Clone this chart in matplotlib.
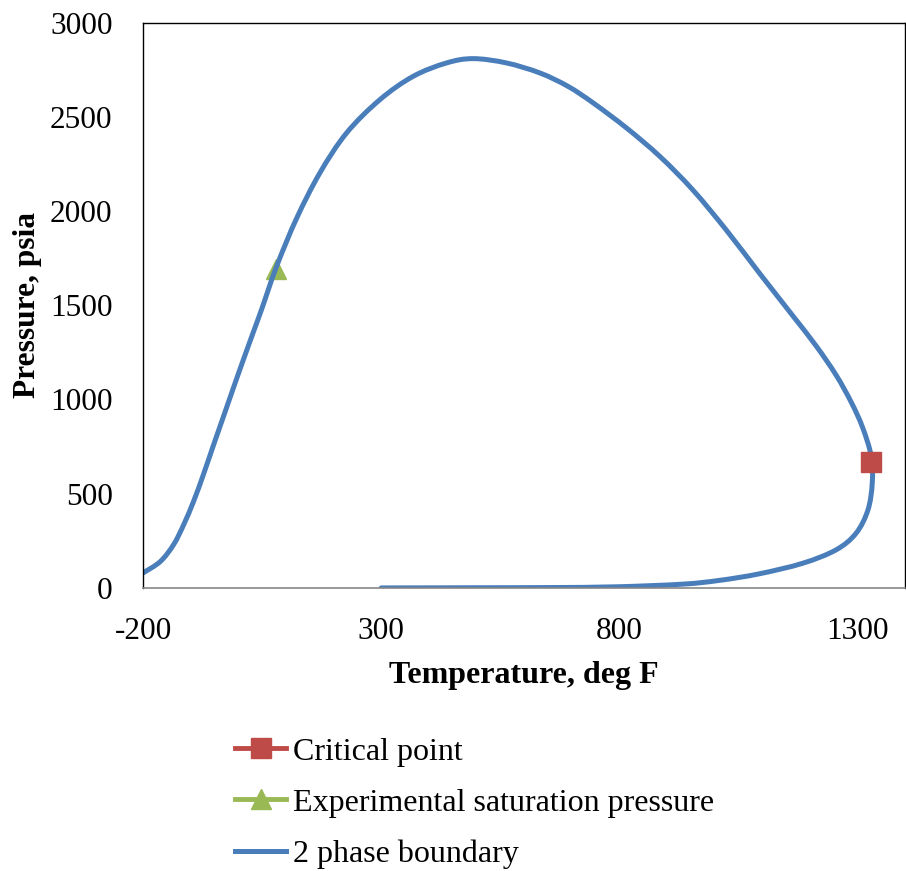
import matplotlib
matplotlib.use("Agg")
import matplotlib.pyplot as plt
from matplotlib.path import Path
from matplotlib.patches import PathPatch
from matplotlib.lines import Line2D

plt.rcParams["font.family"] = ["Liberation Serif", "DejaVu Serif"]
plt.rcParams["axes.unicode_minus"] = False

# 2 phase boundary (deg F, psia)
temp = [-200, -164, -136, -115, -94, -73, -52, -31, -10, 10, 31, 49, 80, 122, 171, 227,
        297, 367, 437, 493, 563, 633, 692, 745, 815, 885, 954, 1024, 1094, 1164, 1213,
        1255, 1287, 1311, 1329, 1331, 1322, 1297, 1255, 1185, 1094, 1010, 933, 794, 654,
        500, 300]
pres = [80, 140, 230, 335, 460, 605, 760, 912, 1065, 1208, 1355, 1480, 1705, 1960, 2202, 2414,
        2591, 2715, 2786, 2809, 2786, 2733, 2662, 2574, 2441, 2290, 2113, 1901, 1671, 1445, 1285,
        1130, 985, 850, 697, 556, 414, 290, 202, 131, 75, 40, 20, 6, 2,
        1, 0]

crit_t, crit_p = [1329], [667]
sat_t, sat_p = [80], [1695]

blue = "#4A7EBB"
red = "#BE4B48"
green = "#98B954"


def smooth_path(xs, ys):
    # Excel-style smoothed line: Catmull-Rom segments drawn as cubic Beziers
    pts = list(zip(xs, ys))
    verts = [pts[0]]
    codes = [Path.MOVETO]
    n = len(pts)
    for i in range(n - 1):
        p0 = pts[i - 1] if i > 0 else pts[i]
        p1 = pts[i]
        p2 = pts[i + 1]
        p3 = pts[i + 2] if i + 2 < n else pts[i + 1]
        c1 = (p1[0] + (p2[0] - p0[0]) / 6, p1[1] + (p2[1] - p0[1]) / 6)
        c2 = (p2[0] - (p3[0] - p1[0]) / 6, p2[1] - (p3[1] - p1[1]) / 6)
        verts += [c1, c2, p2]
        codes += [Path.CURVE4] * 3
    return Path(verts, codes)


fig = plt.figure(figsize=(9.06, 8.71), dpi=100)
ax = fig.add_axes([0.158, 0.325, 0.841, 0.649])

ax.add_patch(PathPatch(smooth_path(temp, pres), facecolor="none", edgecolor=blue,
                       linewidth=3.6, capstyle="round", zorder=2))
h_crit, = ax.plot(crit_t, crit_p, "-s", color=red, markersize=14.5, linewidth=3.5,
                  label="Critical point", zorder=3)
h_sat, = ax.plot(sat_t, sat_p, "-^", color=green, markersize=14, linewidth=3.5,
                 label="Experimental saturation pressure", zorder=1)
h_line = Line2D([], [], color=blue, linewidth=3.6, label="2 phase boundary")

ax.set_xlim(-200, 1400)
ax.set_ylim(0, 3000)
ax.set_xticks([-200, 300, 800, 1300])
ax.set_yticks([0, 500, 1000, 1500, 2000, 2500, 3000])
ax.tick_params(length=0, labelsize=22.5)
ax.tick_params(axis="x", pad=21)
ax.tick_params(axis="y", pad=22)
for s in ["top", "left", "right"]:
    ax.spines[s].set_color("black")
    ax.spines[s].set_linewidth(1.0)
ax.spines["bottom"].set_color("#868686")
ax.spines["bottom"].set_linewidth(1.2)

ax.set_xlabel("Temperature, deg F", fontsize=23, fontweight="bold", labelpad=11)
ax.set_ylabel("Pressure, psia", fontsize=22.6, fontweight="bold", labelpad=6)

fig.legend(handles=[h_crit, h_sat, h_line], loc="upper left", bbox_to_anchor=(0.242, 0.172),
           frameon=False, fontsize=23, handlelength=1.6, handletextpad=0.2,
           labelspacing=0.68, borderpad=0)

fig.savefig("out.png", dpi=100)
